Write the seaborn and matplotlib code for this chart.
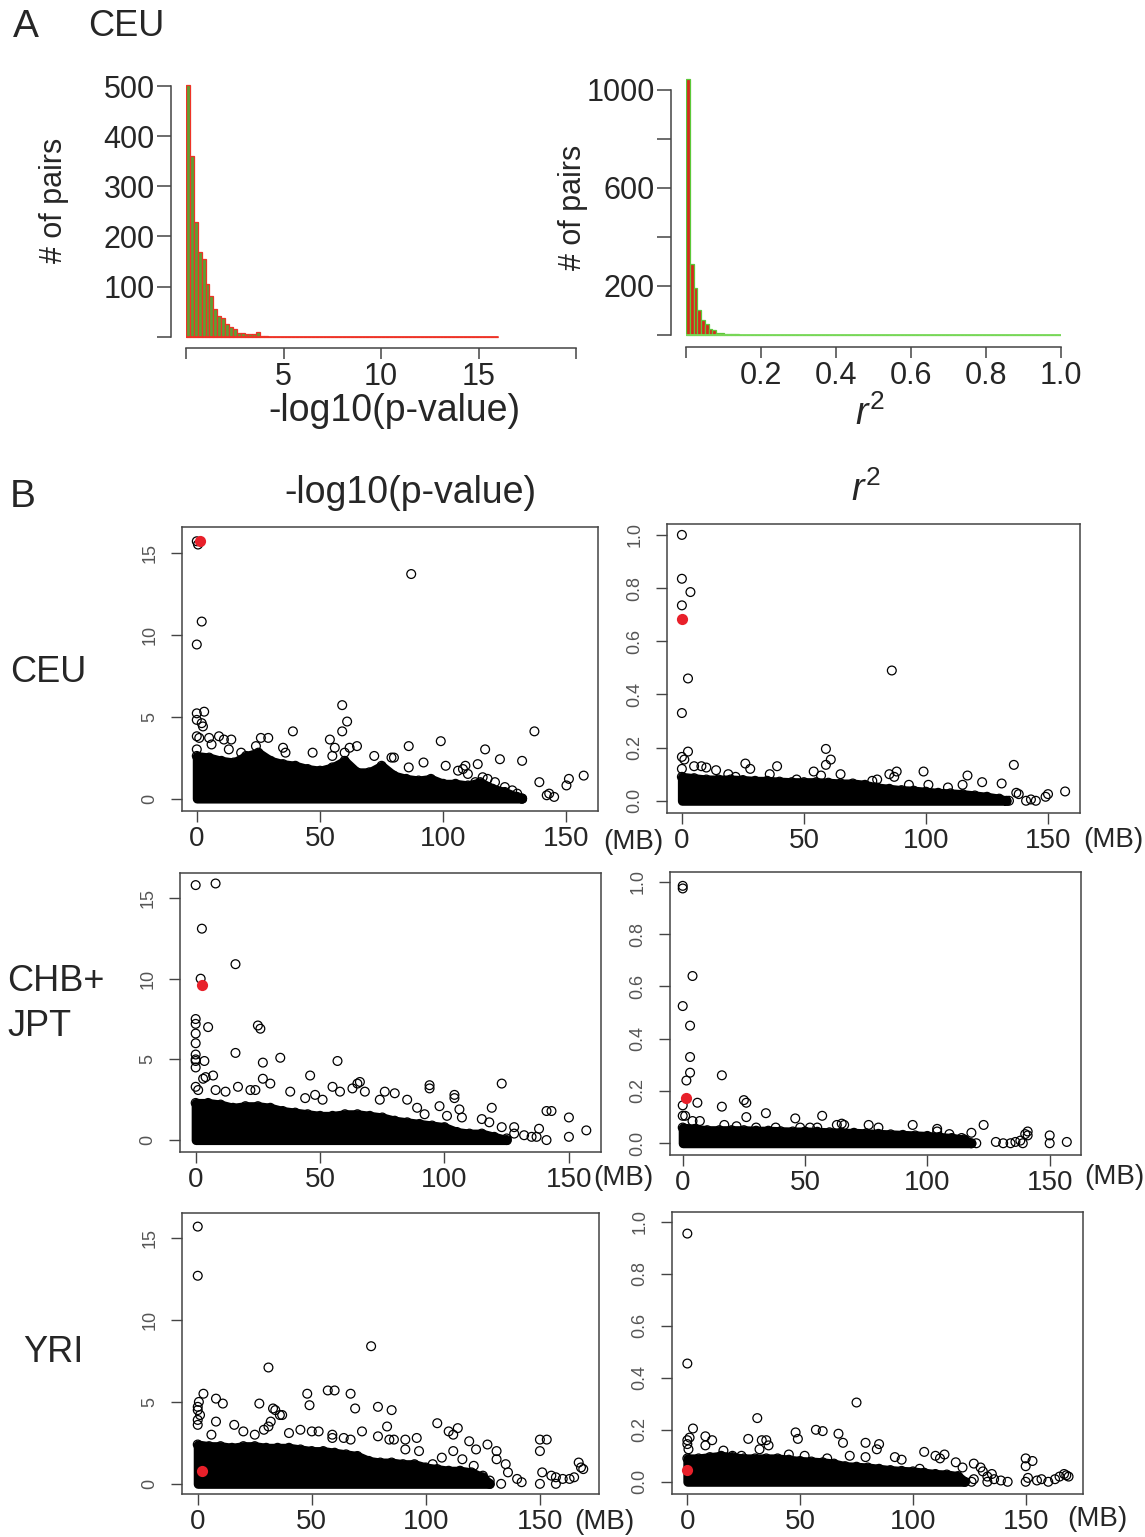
import matplotlib
matplotlib.use("Agg")
import matplotlib.pyplot as plt
import seaborn as sns
import numpy as np
import pandas as pd

sns.set_style("ticks")
plt.rcParams["font.family"] = ["Liberation Sans", "DejaVu Sans"]
plt.rcParams["mathtext.fontset"] = "custom"
plt.rcParams["mathtext.it"] = "Liberation Sans:italic"
plt.rcParams["mathtext.rm"] = "Liberation Sans"

# ---------------- panel A : histograms (CEU) ----------------
pval_bin_width = 0.2
pval_counts = [502, 360, 228, 168, 154, 106, 81, 56, 42, 38, 25, 20, 15, 8, 7,
               6, 6, 6, 9, 2, 2] + [0] * 59
r2_bin_width = 0.01
r2_counts = [1042, 291, 191, 104, 62, 47, 23, 19, 10, 7, 4, 5, 3, 3, 1] + [0] * 85

hp_yticks = [0, 100, 200, 300, 400, 500]
hp_ylabels = ["", "100", "200", "300", "400", "500"]
hp_xticks = [0, 5, 10, 15, 20]
hp_xlabels = ["", "5", "10", "15", ""]
hr_yticks = [0, 200, 400, 600, 800, 1000]
hr_ylabels = ["", "200", "", "600", "", "1000"]
hr_xticks = [0, 0.2, 0.4, 0.6, 0.8, 1.0]
hr_xlabels = ["", "0.2", "0.4", "0.6", "0.8", "1.0"]

# ---------------- panel B : scatter (position in MB vs value) ----------------
mb_ticks = [0, 50, 100, 150]
p_ticks = [0, 5, 10, 15]
r2_ticks = [0.0, 0.2, 0.4, 0.6, 0.8, 1.0]

# dense band upper edge, CEU -log10(p)
ceu_p_env_x = [0, 5, 10, 15, 20, 25, 30, 35, 40, 45, 50, 55, 60, 65, 70, 75, 80,
               85, 90, 95, 100, 105, 110, 115, 120, 125, 130, 132]
ceu_p_env_y = [2.6, 2.5, 2.3, 2.2, 2.6, 2.8, 2.3, 2.1, 2.0, 1.8, 1.7, 1.9, 2.3,
               1.6, 1.6, 2.0, 1.4, 1.2, 1.1, 1.2, 0.9, 0.9, 0.8, 1.0, 0.6, 0.4,
               0.1, 0.0]
ceu_p_x = [0, 0.5, 2, 0, 0, 3, 0, 2, 2.5, 0, 1, 5, 9, 11, 14, 6, 13, 0, 26, 29,
           39, 18, 24, 35, 36, 47, 54, 56, 59, 59, 61, 62, 65, 60, 55, 72, 79,
           80, 86, 99, 86, 92, 101, 109, 114, 117, 123, 132, 137, 139, 142, 143,
           145, 150, 151, 157, 87, 113, 118, 121, 125, 128, 130, 132, 106, 108,
           110, 116]
ceu_p_y = [15.7, 15.5, 10.8, 9.4, 5.2, 5.3, 4.8, 4.6, 4.4, 3.8, 3.7, 3.7, 3.8,
           3.6, 3.6, 3.3, 3.0, 3.0, 3.7, 3.7, 4.1, 2.8, 3.2, 3.1, 2.8, 2.8, 3.6,
           3.1, 4.1, 5.7, 4.7, 3.1, 3.2, 2.8, 2.6, 2.6, 2.5, 2.5, 3.2, 3.5, 1.9,
           2.2, 2.0, 2.0, 2.1, 3.0, 2.4, 2.3, 4.1, 1.0, 0.2, 0.3, 0.1, 0.8, 1.2,
           1.4, 13.7, 1.0, 1.2, 1.0, 0.7, 0.5, 0.3, 0.0, 1.7, 1.8, 1.5, 1.3]
ceu_p_hit = ([1.5], [15.7])

ceu_r_env_x = [0, 5, 10, 15, 20, 25, 30, 35, 40, 45, 50, 55, 60, 65, 70, 75, 80,
               85, 90, 95, 100, 105, 110, 115, 120, 125, 130, 133]
ceu_r_env_y = [0.09, 0.085, 0.08, 0.08, 0.08, 0.078, 0.075, 0.075, 0.072, 0.07,
               0.07, 0.07, 0.068, 0.065, 0.065, 0.06, 0.05, 0.045, 0.04, 0.038,
               0.034, 0.03, 0.028, 0.025, 0.02, 0.015, 0.008, 0.0]
ceu_r_x = [0, 0, 3.5, 0, 2.5, 0, 2.5, 0, 1, 0, 5, 8, 10, 14, 26, 28, 39, 54, 59,
           61, 59, 65, 57, 86, 85, 88, 99, 87, 93, 101, 109, 115, 117, 123, 131,
           136, 137, 138, 134, 141, 143, 145, 149, 150, 157, 78, 80, 47, 36, 19,
           22]
ceu_r_y = [1.0, 0.835, 0.785, 0.735, 0.46, 0.33, 0.185, 0.165, 0.155, 0.12, 0.13,
           0.13, 0.125, 0.115, 0.14, 0.12, 0.13, 0.11, 0.195, 0.155, 0.135, 0.10,
           0.095, 0.49, 0.10, 0.11, 0.11, 0.09, 0.06, 0.06, 0.05, 0.06, 0.095,
           0.07, 0.065, 0.135, 0.03, 0.025, 0.0, 0.0, 0.005, 0.0, 0.015, 0.025,
           0.035, 0.075, 0.08, 0.08, 0.10, 0.10, 0.09]
ceu_r_hit = ([0], [0.685])

chb_p_env_x = [0, 5, 10, 15, 20, 25, 30, 35, 40, 45, 50, 55, 60, 65, 70, 75, 80,
               85, 90, 95, 100, 105, 110, 115, 120, 125]
chb_p_env_y = [2.3, 2.3, 2.2, 2.0, 2.1, 2.1, 2.0, 1.8, 1.7, 1.6, 1.5, 1.5, 1.6,
               1.6, 1.5, 1.4, 1.2, 1.1, 1.0, 0.9, 0.8, 0.5, 0.4, 0.4, 0.2, 0.0]
chb_p_x = [0, 8, 2.5, 16, 2, 0, 0, 5, 25, 26, 0, 0, 16, 0, 0, 0, 3.5, 27, 34, 57,
           0, 4, 3, 7, 46, 27, 30, 17, 0, 1, 8, 12, 22, 24, 38, 48, 55, 58, 63,
           65, 66, 68, 76, 80, 85, 94, 94, 104, 104, 98, 106, 107, 115, 118, 119,
           123, 123, 128, 137, 138, 141, 143, 141, 150, 150, 157, 125, 132, 135,
           128, 44, 51, 74, 89, 92, 101]
chb_p_y = [15.8, 15.9, 13.1, 10.9, 10.0, 7.5, 7.2, 7.0, 7.1, 6.9, 6.6, 6.0, 5.4,
           5.3, 5.0, 4.9, 4.9, 4.8, 5.1, 4.9, 4.5, 3.9, 3.8, 4.0, 4.0, 3.8, 3.5,
           3.3, 3.3, 3.1, 3.1, 3.0, 3.1, 3.1, 3.0, 2.8, 3.3, 3.0, 3.2, 3.5, 3.6,
           3.0, 3.0, 2.9, 2.5, 3.4, 3.2, 2.8, 2.6, 2.1, 1.9, 1.4, 1.3, 1.1, 2.0,
           0.8, 3.5, 0.8, 0.2, 0.7, 1.8, 1.8, 0.0, 1.4, 0.2, 0.6, 0.1, 0.3, 0.2,
           0.4, 2.6, 2.5, 2.5, 2.0, 1.6, 1.5]
chb_p_hit = ([2.5], [9.6])

chb_r_env_x = [0, 5, 10, 15, 20, 25, 30, 35, 40, 45, 50, 55, 60, 65, 70, 75, 80,
               85, 90, 95, 100, 105, 110, 115, 118]
chb_r_env_y = [0.06, 0.055, 0.05, 0.05, 0.05, 0.05, 0.048, 0.048, 0.046, 0.045,
               0.045, 0.044, 0.042, 0.04, 0.04, 0.038, 0.036, 0.034, 0.032, 0.03,
               0.028, 0.024, 0.02, 0.015, 0.0]
chb_r_x = [0, 0, 4, 0, 3, 3, 3, 1.5, 6, 16, 16, 25, 26, 26, 34, 46, 57, 0, 0, 1,
           4, 7, 17, 22, 30, 38, 48, 52, 55, 63, 65, 66, 76, 80, 94, 104, 104,
           109, 114, 118, 123, 120, 128, 131, 134, 136, 138, 140, 141, 141, 150,
           150, 157, 139]
chb_r_y = [0.985, 0.975, 0.64, 0.525, 0.45, 0.33, 0.27, 0.24, 0.155, 0.26, 0.14,
           0.165, 0.155, 0.10, 0.115, 0.095, 0.105, 0.145, 0.105, 0.105, 0.085,
           0.085, 0.07, 0.065, 0.06, 0.06, 0.06, 0.06, 0.06, 0.07, 0.075, 0.07,
           0.07, 0.06, 0.07, 0.055, 0.045, 0.035, 0.02, 0.04, 0.07, 0.0, 0.005,
           0.0, 0.0, 0.005, 0.01, 0.035, 0.045, 0.03, 0.03, 0.0, 0.005, 0.0]
chb_r_hit = ([1.5], [0.175])

yri_p_env_x = [0, 5, 10, 15, 20, 25, 30, 35, 40, 45, 50, 55, 60, 65, 70, 75, 80,
               85, 90, 95, 100, 105, 110, 115, 120, 125, 128]
yri_p_env_y = [2.4, 2.3, 2.3, 2.2, 2.3, 2.3, 2.2, 2.2, 2.2, 2.1, 2.0, 2.0, 1.9,
               1.8, 1.7, 1.4, 1.3, 1.3, 1.2, 1.2, 1.0, 0.9, 0.8, 0.8, 0.7, 0.4,
               0.0]
yri_p_x = [0, 0, 76, 31, 2.5, 8, 11, 0.5, 0, 0, 1, 0, 0, 27, 33, 34, 36, 37, 48,
           49, 57, 60, 67, 69, 79, 85, 8, 16, 32, 31, 40, 45, 50, 53, 59, 59, 64,
           67, 72, 79, 83, 84, 86, 91, 96, 105, 110, 112, 114, 119, 122, 127, 131,
           131, 135, 136, 140, 142, 133, 150, 153, 150, 150, 151, 155, 157, 157,
           160, 163, 165, 167, 168, 169, 6, 20, 25, 29, 91, 97, 103, 107, 112,
           116, 121, 125, 128]
yri_p_y = [15.7, 12.7, 8.4, 7.1, 5.5, 5.2, 4.9, 5.0, 4.7, 4.5, 4.2, 3.9, 3.6,
           4.9, 4.6, 4.5, 4.2, 4.2, 5.5, 4.8, 5.7, 5.7, 5.5, 4.6, 4.7, 4.5, 3.8,
           3.6, 3.8, 3.5, 3.1, 3.3, 3.2, 3.2, 3.0, 2.8, 2.8, 2.7, 3.2, 2.9, 3.5,
           2.7, 2.7, 2.7, 2.8, 3.7, 3.2, 3.0, 3.4, 2.6, 2.1, 2.4, 2.0, 1.5, 1.2,
           0.7, 0.3, 0.1, 0.0, 2.7, 2.7, 2.0, 0.0, 0.7, 0.5, 0.0, 0.4, 0.3, 0.3,
           0.4, 1.3, 1.0, 0.9, 3.0, 3.2, 3.0, 3.3, 2.1, 2.0, 1.2, 1.6, 2.0, 1.5,
           1.1, 0.5, 0.2]
yri_p_hit = ([2], [0.8])

yri_r_env_x = [0, 5, 10, 15, 20, 25, 30, 35, 40, 45, 50, 55, 60, 65, 70, 75, 80,
               85, 90, 95, 100, 105, 110, 115, 120, 123]
yri_r_env_y = [0.09, 0.09, 0.095, 0.1, 0.095, 0.09, 0.09, 0.09, 0.09, 0.085, 0.08,
               0.078, 0.075, 0.07, 0.06, 0.058, 0.055, 0.05, 0.045, 0.042, 0.04,
               0.035, 0.03, 0.028, 0.022, 0.0]
yri_r_x = [0, 0, 75, 31, 2.5, 0, 1, 0.5, 0, 8, 11, 8, 27, 33, 35, 36, 32, 16, 48,
           49, 57, 60, 67, 69, 79, 85, 84, 72, 79, 95, 92, 105, 110, 114, 112, 119,
           122, 127, 130, 131, 133, 135, 136, 139, 142, 133, 150, 153, 150, 150,
           151, 155, 157, 160, 163, 165, 167, 168, 169, 20, 24, 45, 52, 62, 103,
           126, 127]
yri_r_y = [0.955, 0.455, 0.305, 0.245, 0.205, 0.16, 0.17, 0.125, 0.145, 0.175,
           0.16, 0.14, 0.165, 0.16, 0.16, 0.14, 0.125, 0.12, 0.19, 0.165, 0.20,
           0.195, 0.185, 0.15, 0.15, 0.145, 0.125, 0.10, 0.095, 0.085, 0.095,
           0.115, 0.10, 0.105, 0.09, 0.075, 0.055, 0.07, 0.055, 0.04, 0.02, 0.03,
           0.01, 0.005, 0.0, 0.0, 0.09, 0.08, 0.06, 0.0, 0.015, 0.005, 0.01, 0.0,
           0.01, 0.02, 0.03, 0.025, 0.02, 0.10, 0.10, 0.105, 0.10, 0.09, 0.05,
           0.0, 0.01]
yri_r_hit = ([0], [0.045])

# ---------------- figure ----------------
W, H = 1145, 1537
fig = plt.figure(figsize=(W / 100, H / 100), dpi=100)
AX_COL = "#444444"


def px_axes(left, top, right, bottom):
    return fig.add_axes([left / W, 1 - bottom / H, (right - left) / W, (bottom - top) / H])


def hist_panel(box, counts, width, fill, edge, line, xlim, ylim, xt, xl, yt, yl, out_left, out_bottom):
    ax = px_axes(*box)
    nbin = len(counts)
    edges = np.arange(nbin + 1) * width
    df = pd.DataFrame({"mid": edges[:-1] + width / 2, "n": counts})
    sns.histplot(data=df, x="mid", weights="n", binwidth=width,
                 binrange=(0, nbin * width), ax=ax, color=fill,
                 edgecolor=edge, linewidth=0.9, alpha=1)
    ax.plot([edges[0], edges[-1]], [0, 0], color=line, lw=1.3)
    ax.set_xlim(xlim)
    ax.set_ylim(ylim)
    ax.set_xlabel("")
    ax.set_ylabel("")
    ax.spines["top"].set_visible(False)
    ax.spines["right"].set_visible(False)
    ax.spines["left"].set_position(("outward", out_left))
    ax.spines["bottom"].set_position(("outward", out_bottom))
    ax.spines["left"].set_bounds(yt[0], yt[-1])
    ax.spines["bottom"].set_bounds(xt[0], xt[-1])
    for s in ("left", "bottom"):
        ax.spines[s].set_color(AX_COL)
        ax.spines[s].set_linewidth(1.1)
    ax.set_xticks(xt)
    ax.set_xticklabels(xl)
    ax.set_yticks(yt)
    ax.set_yticklabels(yl)
    ax.tick_params(axis="y", length=10, width=1.1, color=AX_COL, labelsize=22, pad=2)
    ax.tick_params(axis="x", length=8, width=1.1, color=AX_COL, labelsize=22, pad=2)
    return ax


hist_panel((186, 76, 576, 340), pval_counts, pval_bin_width, "#5e9f34", "#ee3327",
           "#ee3327", (0, 20), (-6.6, 520), hp_xticks, hp_xlabels, hp_yticks,
           hp_ylabels, 10.6, 6.0)
hist_panel((686, 76, 1061, 338), r2_counts, r2_bin_width, "#d62a1c", "#5cc83a",
           "#7ad85a", (0, 1), (-12, 1055), hr_xticks, hr_xlabels, hr_yticks,
           hr_ylabels, 10.6, 6.4)


def scatter_panel(box, xlim, ylim, yticks, ylabels, env, pts, hit):
    ax = px_axes(*box)
    ax.fill_between(env[0], 0, env[1], color="black", lw=6.5, joinstyle="round", zorder=2)
    circ = dict(marker="o", s=40, facecolor="none", edgecolor="black",
                linewidth=0.9, legend=False, zorder=3)
    sns.scatterplot(x=env[0], y=env[1], ax=ax, **circ)
    sns.scatterplot(x=pts[0], y=pts[1], ax=ax, **circ)
    sns.scatterplot(x=hit[0], y=hit[1], ax=ax, s=65, color="#e8202a",
                    edgecolor="#e8202a", linewidth=0, legend=False, zorder=4)
    ax.set_xlim(xlim)
    ax.set_ylim(ylim)
    for s in ax.spines.values():
        s.set_color(AX_COL)
        s.set_linewidth(1.1)
    ax.set_xticks(mb_ticks)
    ax.set_xticklabels([str(t) for t in mb_ticks], fontsize=20)
    ax.set_yticks(yticks)
    ax.set_yticklabels(ylabels, rotation=90, va="center", fontsize=13, color="#555555")
    ax.tick_params(axis="x", length=8, width=1, color=AX_COL, pad=3)
    ax.tick_params(axis="y", length=8, width=1, color=AX_COL, pad=9)
    return ax


p_lab = [str(t) for t in p_ticks]
r_lab = ["%.1f" % t for t in r2_ticks]

scatter_panel((182, 527, 598, 811), (-6.0, 162.8), (-0.76, 16.57), p_ticks, p_lab,
              (ceu_p_env_x, ceu_p_env_y), (ceu_p_x, ceu_p_y), ceu_p_hit)
scatter_panel((667, 524, 1080, 813), (-6.1, 163.1), (-0.046, 1.041), r2_ticks, r_lab,
              (ceu_r_env_x, ceu_r_env_y), (ceu_r_x, ceu_r_y), ceu_r_hit)
scatter_panel((180, 873, 601, 1152), (-6.3, 162.9), (-0.74, 16.55), p_ticks, p_lab,
              (chb_p_env_x, chb_p_env_y), (chb_p_x, chb_p_y), chb_p_hit)
scatter_panel((670, 872, 1081, 1155), (-5.2, 162.8), (-0.045, 1.038), r2_ticks, r_lab,
              (chb_r_env_x, chb_r_env_y), (chb_r_x, chb_r_y), chb_r_hit)
scatter_panel((182, 1213, 599, 1494), (-6.9, 175.9), (-0.62, 16.53), p_ticks, p_lab,
              (yri_p_env_x, yri_p_env_y), (yri_p_x, yri_p_y), yri_p_hit)
scatter_panel((672, 1212, 1083, 1494), (-6.8, 175.4), (-0.047, 1.038), r2_ticks, r_lab,
              (yri_r_env_x, yri_r_env_y), (yri_r_x, yri_r_y), yri_r_hit)


# ---------------- text ----------------
def ftext(x, y, s, size, **kw):
    fig.text(x / W, 1 - y / H, s, fontsize=size, va="center", **kw)


ftext(26, 27, "A", 28, ha="center")
ftext(126, 27, "CEU", 26, ha="center")
ftext(54, 200, "# of pairs", 22, ha="center", rotation=90)
ftext(573, 207, "# of pairs", 22, ha="center", rotation=90)
ftext(394, 411, "-log10(p-value)", 27, ha="center")
ftext(870, 414, "$r^2$", 27, ha="center")

ftext(23, 497, "B", 28, ha="center")
ftext(410, 493, "-log10(p-value)", 27, ha="center")
ftext(866, 490, "$r^2$", 27, ha="center")

ftext(48, 672, "CEU", 26, ha="center")
ftext(7, 981, "CHB+", 26, ha="left")
ftext(7, 1026, "JPT", 26, ha="left")
ftext(53, 1352, "YRI", 26, ha="center")

for (mx, my) in [(633, 842), (1113, 840), (623, 1178), (1114, 1177), (604, 1522), (1097, 1519)]:
    ftext(mx, my, "(MB)", 20, ha="center")

fig.savefig("out.png", dpi=100)
